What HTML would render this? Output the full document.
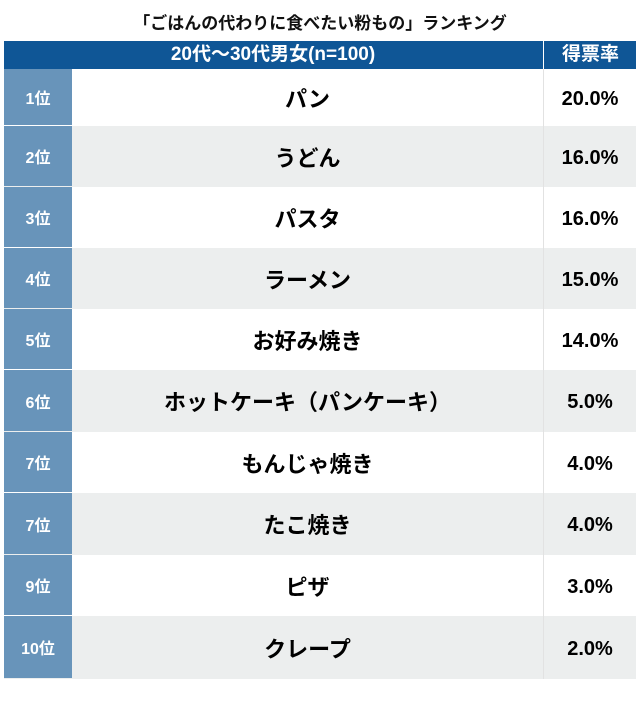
<!DOCTYPE html>
<html><head><meta charset="utf-8"><style>
body{margin:0;width:640px;height:702px;background:#fff;font-family:"Liberation Sans","Noto Sans CJK JP",sans-serif;font-weight:bold;position:relative;overflow:hidden}
.t{position:absolute;top:9px;left:0;width:640px;text-align:center;font-size:17px;color:#111}
.h{position:absolute;top:41px;left:4px;width:632px;height:28px;background:#0f5696;color:#fff}
.h div{position:absolute;top:0;height:28px;line-height:28px;text-align:center;font-size:19px}
.r{position:absolute;left:4px;width:632px}
.r .k{position:absolute;left:0;top:0;width:68px;bottom:1px;background:#6894ba;color:#fff;display:flex;align-items:center;justify-content:center;font-size:16px}
.r .n{position:absolute;left:68px;top:0;width:471px;bottom:0;display:flex;align-items:center;justify-content:center;font-size:22px;color:#000}
.r .p{position:absolute;left:539px;top:0;width:93px;bottom:0;padding-top:3px;box-sizing:border-box;display:flex;align-items:center;justify-content:center;font-size:20px;color:#000;border-left:1px solid #e2e2e2}
.g{background:#eceeee}
</style></head><body>
<div class="t">「ごはんの代わりに食べたい粉もの」ランキング</div>
<div class="h"><div style="left:0;width:538px">20代～30代男女(n=100)</div><div style="left:539px;width:93px;border-left:1px solid #fff">得票率</div></div>
<div class="r" style="top:69px;height:57px"><div class="k">1位</div><div class="n">パン</div><div class="p">20.0%</div></div>
<div class="r g" style="top:126px;height:61px"><div class="k">2位</div><div class="n">うどん</div><div class="p">16.0%</div></div>
<div class="r" style="top:187px;height:61px"><div class="k">3位</div><div class="n">パスタ</div><div class="p">16.0%</div></div>
<div class="r g" style="top:248px;height:61px"><div class="k">4位</div><div class="n">ラーメン</div><div class="p">15.0%</div></div>
<div class="r" style="top:309px;height:61px"><div class="k">5位</div><div class="n">お好み焼き</div><div class="p">14.0%</div></div>
<div class="r g" style="top:370px;height:62px"><div class="k">6位</div><div class="n">ホットケーキ（パンケーキ）</div><div class="p">5.0%</div></div>
<div class="r" style="top:432px;height:61px"><div class="k">7位</div><div class="n">もんじゃ焼き</div><div class="p">4.0%</div></div>
<div class="r g" style="top:493px;height:62px"><div class="k">7位</div><div class="n">たこ焼き</div><div class="p">4.0%</div></div>
<div class="r" style="top:555px;height:61px"><div class="k">9位</div><div class="n">ピザ</div><div class="p">3.0%</div></div>
<div class="r g" style="top:616px;height:63px"><div class="k">10位</div><div class="n">クレープ</div><div class="p">2.0%</div></div>
</body></html>
